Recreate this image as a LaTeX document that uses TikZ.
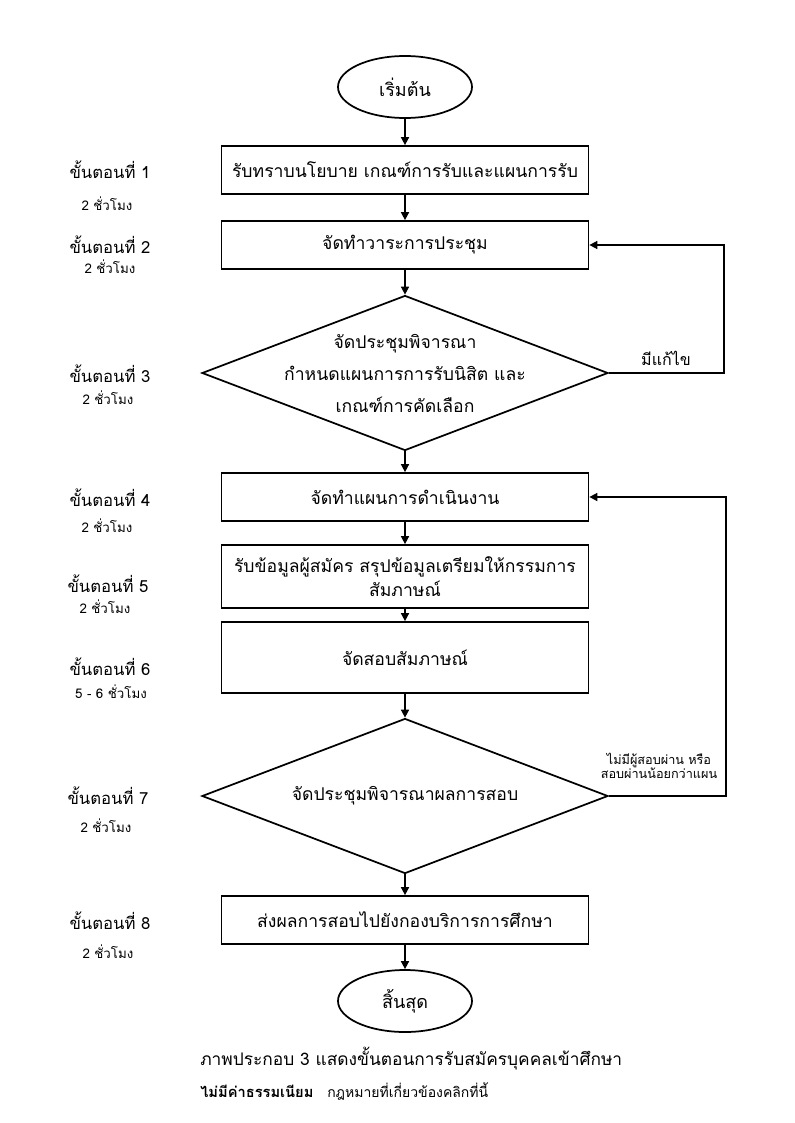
\documentclass[tikz,border=0pt]{standalone}
\usepackage{fontspec}
\newfontfamily\thai[Script=Thai]{Loma}
\usetikzlibrary{shapes.geometric,arrows.meta}
\begin{document}
\begin{tikzpicture}[x=0.75pt,y=-0.75pt,
  every node/.style={font=\thai},
  line/.style={line width=1.2pt},
  box/.style={draw, line width=1.3pt, minimum width=367*0.75pt, minimum height=48*0.75pt, inner sep=0pt, align=center, font=\thai\fontsize{13.2}{18}\selectfont},
  term/.style={draw, ellipse, line width=1.3pt, minimum width=134*0.75pt, minimum height=62*0.75pt, inner sep=0pt, font=\thai\fontsize{13.5}{18}\selectfont},
  decide/.style={draw, diamond, aspect=2.62, line width=1.3pt, minimum width=406*0.75pt, minimum height=155*0.75pt, inner sep=0pt},
  dtext/.style={align=center, inner sep=0pt, font=\thai\fontsize{13.2}{24}\selectfont},
  arr/.style={line, -{Triangle[length=6pt,width=6pt]}},
  steplbl/.style={font=\thai\fontsize{12.5}{16}\selectfont},
  hourlbl/.style={font=\thai\fontsize{10}{12}\selectfont},
  edgelbl/.style={font=\thai\fontsize{12}{14}\selectfont},
  smalllbl/.style={font=\thai\fontsize{9.5}{12}\selectfont, align=center}
]
\useasboundingbox (0,0) rectangle (794,1123);

% main flow
\node[term] (start) at (405,87) {เริ่มต้น};
\node[box] (b1) at (405,170) {รับทราบนโยบาย เกณฑ์การรับและแผนการรับ};
\node[box] (b2) at (405,245) {จัดทำวาระการประชุม};
\node[decide] (d1) at (405,373) {};
\node[dtext] (d1t) at (d1.center) {จัดประชุมพิจารณา\\กำหนดแผนการการรับนิสิต และ\\เกณฑ์การคัดเลือก};
\node[box] (b4) at (405,497) {จัดทำแผนการดำเนินงาน};
\node[box, minimum height=63*0.75pt] (b5) at (405,576.5) {รับข้อมูลผู้สมัคร สรุปข้อมูลเตรียมให้กรรมการ\\สัมภาษณ์};
\node[box, minimum height=71*0.75pt] (b6) at (405,657.5) {จัดสอบสัมภาษณ์};
\node[decide] (d2) at (405,796) {};
\node[dtext] (d2t) at (d2.center) {จัดประชุมพิจารณาผลการสอบ};
\node[box] (b8) at (405,920) {ส่งผลการสอบไปยังกองบริการการศึกษา};
\node[term] (stop) at (405,1001) {สิ้นสุด};

\draw[arr] (start) -- (b1);
\draw[arr] (b1) -- (b2);
\draw[arr] (b2) -- (d1);
\draw[arr] (d1) -- (b4);
\draw[arr] (b4) -- (b5);
\draw[arr] (b5) -- (b6);
\draw[arr] (b6) -- (d2);
\draw[arr] (d2) -- (b8);
\draw[arr] (b8) -- (stop);

% feedback loops
\coordinate (fb1) at (724,300);
\coordinate (fb2) at (726,600);
\draw[arr] (d1.east) -- (d1.east -| fb1) -- (b2.east -| fb1) -- (b2.east);
\draw[arr] (d2.east) -- (d2.east -| fb2) -- (b4.east -| fb2) -- (b4.east);
\node[edgelbl] (l1) at (666,358) {มีแก้ไข};
\node[smalllbl] (l2) at (659,766) {ไม่มีผู้สอบผ่าน หรือ\\[-2pt]สอบผ่านน้อยกว่าแผน};

% step labels
\node[steplbl] (s1) at (110,170) {ขั้นตอนที่ 1};
\node[hourlbl] (h1) at (107,204) {2 ชั่วโมง};
\node[steplbl] (s2) at (110,245) {ขั้นตอนที่ 2};
\node[hourlbl] (h2) at (110,267) {2 ชั่วโมง};
\node[steplbl] (s3) at (110,374) {ขั้นตอนที่ 3};
\node[hourlbl] (h3) at (108,398) {2 ชั่วโมง};
\node[steplbl] (s4) at (110,498) {ขั้นตอนที่ 4};
\node[hourlbl] (h4) at (107,526) {2 ชั่วโมง};
\node[steplbl] (s5) at (108,584) {ขั้นตอนที่ 5};
\node[hourlbl] (h5) at (105,607) {2 ชั่วโมง};
\node[steplbl] (s6) at (110,667) {ขั้นตอนที่ 6};
\node[hourlbl] (h6) at (111,692) {5 - 6 ชั่วโมง};
\node[steplbl] (s7) at (108,796) {ขั้นตอนที่ 7};
\node[hourlbl] (h7) at (106,826) {2 ชั่วโมง};
\node[steplbl] (s8) at (110,921) {ขั้นตอนที่ 8};
\node[hourlbl] (h8) at (108,952) {2 ชั่วโมง};

% caption
\node[anchor=west, inner sep=0pt, font=\thai\fontsize{13}{16}\selectfont] (cap) at (200,1059) {ภาพประกอบ 3 แสดงขั้นตอนการรับสมัครบุคคลเข้าศึกษา};
\node[anchor=west, inner sep=0pt, font=\thai\bfseries\fontsize{11}{12}\selectfont] (fee) at (200,1091) {ไม่มีค่าธรรมเนียม};
\node[anchor=west, inner sep=0pt, font=\thai\fontsize{10.5}{12}\selectfont] (law) at (327,1091) {กฎหมายที่เกี่ยวข้องคลิกที่นี้};
\end{tikzpicture}
\end{document}
